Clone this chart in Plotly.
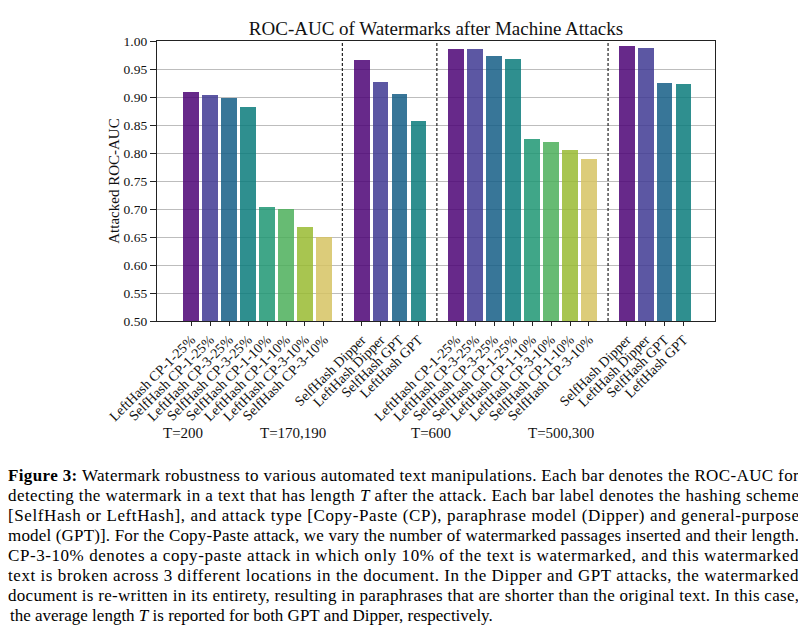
import plotly.graph_objects as go

# ---------------- data ----------------
group1_labels = ["LeftHash CP-1-25%", "SelfHash CP-1-25%", "LeftHash CP-3-25%", "SelfHash CP-3-25%",
                 "SelfHash CP-1-10%", "LeftHash CP-1-10%", "LeftHash CP-3-10%", "SelfHash CP-3-10%"]
group1_values = [0.909, 0.904, 0.898, 0.882, 0.703, 0.700, 0.667, 0.650]

group2_labels = ["SelfHash Dipper", "LeftHash Dipper", "SelfHash GPT", "LeftHash GPT"]
group2_values = [0.966, 0.927, 0.905, 0.857]

group3_labels = ["LeftHash CP-1-25%", "LeftHash CP-3-25%", "SelfHash CP-3-25%", "SelfHash CP-1-25%",
                 "LeftHash CP-1-10%", "LeftHash CP-3-10%", "SelfHash CP-1-10%", "SelfHash CP-3-10%"]
group3_values = [0.986, 0.986, 0.973, 0.968, 0.825, 0.820, 0.806, 0.789]

group4_labels = ["SelfHash Dipper", "LeftHash Dipper", "SelfHash GPT", "LeftHash GPT"]
group4_values = [0.991, 0.988, 0.925, 0.923]

group_T_labels = ["T=200", "T=170,190", "T=600", "T=500,300"]
y_ticks = [0.50, 0.55, 0.60, 0.65, 0.70, 0.75, 0.80, 0.85, 0.90, 0.95, 1.00]

groups = [(group1_labels, group1_values), (group2_labels, group2_values),
          (group3_labels, group3_values), (group4_labels, group4_values)]

caption = [
    "<b>Figure 3:</b> Watermark robustness to various automated text manipulations. Each bar denotes the ROC-AUC for",
    "detecting the watermark in a text that has length <i>T</i> after the attack. Each bar label denotes the hashing scheme",
    "[SelfHash or LeftHash], and attack type [Copy-Paste (CP), paraphrase model (Dipper) and general-purpose",
    "model (GPT)]. For the Copy-Paste attack, we vary the number of watermarked passages inserted and their length.",
    "CP-3-10% denotes a copy-paste attack in which only 10% of the text is watermarked, and this watermarked",
    "text is broken across 3 different locations in the document. In the Dipper and GPT attacks, the watermarked",
    "document is re-written in its entirety, resulting in paraphrases that are shorter than the original text. In this case,",
    "the average length <i>T</i> is reported for both GPT and Dipper, respectively.",
]

# ---------------- styling ----------------
observed = ["#672A8A", "#5C57A3", "#387698", "#308F8F", "#40A688", "#67BB74", "#A8C550", "#DCCC7A"]
ALPHA = 0.85


def to_rgba(h):
    r, g, b = int(h[1:3], 16), int(h[3:5], 16), int(h[5:7], 16)
    conv = lambda c: max(0, min(255, round((c - (1 - ALPHA) * 255) / ALPHA)))
    return f"rgba({conv(r)},{conv(g)},{conv(b)},{ALPHA})"


palette = [to_rgba(c) for c in observed]
STEP = 0.1431
BAR_W = 0.119
FONT = "Liberation Serif"
TXT = "#111111"

# figure geometry (page body has an 8px margin)
W, H = 798, 622
ML, MR, MT = 149, 90.5, 33
PLOT_BOTTOM = 313          # figure-pixel y of the x axis
MB = H - PLOT_BOTTOM
PW, PH = W - ML - MR, H - MT - MB
CAP_LEFT, CAP_RIGHT = 8, 799  # caption text block edges in window pixels

fig = go.Figure()
tickvals, ticktext = [], []
for gi, (labels, values) in enumerate(groups):
    n = len(labels)
    xs = [gi + (i - (n - 1) / 2) * STEP for i in range(n)]
    fig.add_trace(go.Bar(
        x=xs, y=values, width=BAR_W,
        marker=dict(color=palette[:n], line=dict(width=0)),
        showlegend=False, hoverinfo="y",
    ))
    tickvals += xs
    ticktext += labels

# separators between groups
for xsep in [0.640, 1.353, 2.645]:
    fig.add_shape(type="line", xref="x", yref="y domain", x0=xsep, x1=xsep, y0=0, y1=1,
                  line=dict(color="#222222", width=1.2, dash="3px,2px"))

# T labels
for xt, txt in zip([-0.56, 0.268, 1.307, 2.29], group_T_labels):
    fig.add_annotation(x=xt, y=(PLOT_BOTTOM - 425) / PH, xref="x", yref="paper", text=txt,
                       showarrow=False, font=dict(family=FONT, size=15, color=TXT), yanchor="middle")

# caption (all lines but the last are justified in post_script)
for k, line in enumerate(caption):
    ypx = 467 + 20 * k
    fig.add_annotation(x=(0 - ML) / PW, y=(PLOT_BOTTOM - ypx) / PH,
                       xref="paper", yref="paper",
                       text=line, showarrow=False, xanchor="left", yanchor="middle",
                       font=dict(family=FONT, size=17, color="#000000"))

fig.update_layout(
    width=W, height=H,
    margin=dict(l=ML, r=MR, t=MT, b=MB, autoexpand=False),
    paper_bgcolor="white", plot_bgcolor="white",
    title=dict(text="ROC-AUC of Watermarks after Machine Attacks", x=0.5, xref="paper",
               y=1 - 20 / H, yref="container", yanchor="middle",
               font=dict(family=FONT, size=19, color=TXT)),
    font=dict(family=FONT, color=TXT),
    bargap=0,
)
fig.update_xaxes(
    range=[-0.759, 3.452], tickmode="array", tickvals=tickvals, ticktext=ticktext,
    tickangle=-45, tickfont=dict(family=FONT, size=14, color=TXT),
    ticks="outside", ticklen=4, tickcolor="#222222",
    showline=True, linecolor="#222222", linewidth=1.2, mirror=True, showgrid=False, zeroline=False,
)
fig.update_yaxes(
    range=[0.5, 1.0], tickmode="array", tickvals=y_ticks, ticktext=[f"{v:.2f}" for v in y_ticks],
    tickfont=dict(family=FONT, size=13.5, color=TXT),
    ticks="outside", ticklen=6, tickcolor="#222222",
    showline=True, linecolor="#222222", linewidth=1.2, mirror=True,
    showgrid=True, gridcolor="#BDBDBD", gridwidth=1, zeroline=False,
    title=dict(text="Attacked ROC-AUC", font=dict(family=FONT, size=15, color=TXT), standoff=0),
)

n_T = len(group_T_labels)
n_just = len(caption) - 1
post_js = """
(function(){
  var gd = document.getElementById('{plot_id}');
  var LEFT = %d, RIGHT = %d;
  var anns = gd.querySelectorAll('g.annotation');
  anns.forEach(function(a){
    var idx = parseInt(a.getAttribute('data-index'), 10);
    if (!(idx >= %d && idx < %d)) return;
    var t = a.querySelector('text.annotation-text');
    if (!t) return;
    var target = RIGHT - LEFT;
    var L = target;
    t.setAttribute('lengthAdjust', 'spacing');
    for (var it = 0; it < 6; it++) {
      t.setAttribute('textLength', String(L));
      var r = t.getBoundingClientRect();
      if (!r.width) break;
      L = L + (target - r.width);
    }
    var r2 = t.getBoundingClientRect();
    var dx = LEFT - r2.left;
    var tr = t.getAttribute('transform') || '';
    t.setAttribute('transform', 'translate(' + dx + ',0) ' + tr);
  });
})();
""" % (CAP_LEFT, CAP_RIGHT, n_T, n_T + n_just)

fig.write_html("out.html", post_script=post_js)
